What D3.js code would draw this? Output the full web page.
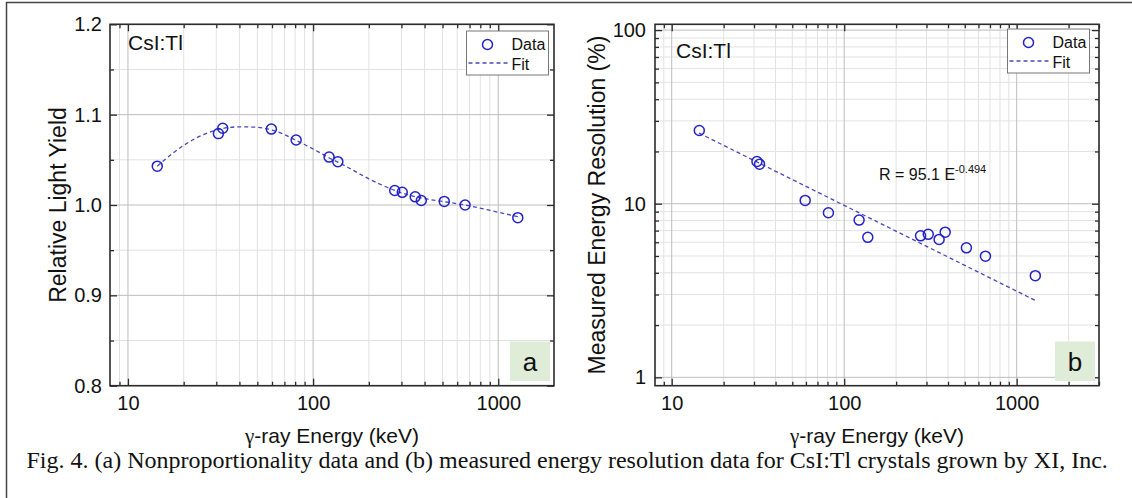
<!DOCTYPE html>
<html>
<head>
<meta charset="utf-8">
<title>CsI:Tl nonproportionality and energy resolution</title>
<script src="https://cdn.jsdelivr.net/npm/d3@7"></script>
<style>
    body { margin: 0; background: #fff; }
    svg { display: block; }
    text { font-family: "Liberation Sans", Arial, sans-serif; fill: #111; }
    .grid-major { stroke: #bdbdbd; stroke-width: 1; }
    .grid-minor { stroke: #e2e2e2; stroke-width: 1; }
    .frame { fill: none; stroke: #2b2b2b; stroke-width: 1.6; }
    .tick line { stroke: #2b2b2b; stroke-width: 1.3; }
    .tick text { font-size: 20px; }
    .data { fill: none; stroke: #2222c8; stroke-width: 1.5; }
    .fit { fill: none; stroke: #4848b8; stroke-width: 1.3; stroke-dasharray: 4,3; }
    .legend-box { fill: #fff; stroke: #777; stroke-width: 1; }
    .caption { font-family: "Liberation Serif", "Times New Roman", serif; font-size: 24px; }
</style>
</head>
<body>
<script>
    // Panel (a): relative light yield
    var energyA = [14.4, 30.8, 32.5, 59.5, 81, 122, 136, 276, 303, 356, 384, 511, 662, 1275];
    var lightYield = [1.043, 1.079, 1.085, 1.084, 1.072, 1.053, 1.048, 1.016, 1.014, 1.009, 1.005, 1.004, 1.000, 0.986];
    var fitEnergyA = [14.4, 20, 25, 30, 40, 50, 60, 70, 80, 100, 120, 150, 200, 300, 400, 500, 700, 1000, 1275];
    var fitYieldA = [1.043, 1.066, 1.077, 1.083, 1.0865, 1.086, 1.083, 1.078, 1.072, 1.062, 1.053, 1.043, 1.029, 1.0135, 1.007, 1.004, 0.999, 0.992, 0.987];

    // Panel (b): measured energy resolution
    var energyB = [14.45, 31.2, 32.3, 59.4, 81, 122, 137, 277, 307, 355, 385, 511, 659, 1282];
    var resolution = [26.4, 17.5, 16.9, 10.45, 8.87, 8.05, 6.4, 6.53, 6.66, 6.23, 6.86, 5.57, 4.99, 3.85];
    var fitEnergyB = [14.4, 1275];
    var fitResB = [25.5, 2.78];

    // Tick values
    var xMajor = [10, 100, 1000];
    var xMinorA = [9, 20, 30, 40, 50, 60, 70, 80, 90, 200, 300, 400, 500, 600, 700, 800, 900];
    var xMinorB = xMinorA.concat([2000, 3000]);
    var yMajorA = [0.8, 0.9, 1.0, 1.1, 1.2];
    var yMinorA = [0.85, 0.95, 1.05, 1.15];
    var yMajorB = [1, 10, 100];
    var yMinorB = [2, 3, 4, 5, 6, 7, 8, 9, 20, 30, 40, 50, 60, 70, 80, 90];

    var svg = d3.select("body").append("svg")
        .attr("width", 1132)
        .attr("height", 498);

    svg.append("rect").attr("width", 1132).attr("height", 498).attr("fill", "#fff");

    // outer figure border (only left and top edges are inside the picture)
    svg.append("rect")
        .attr("x", 6.5).attr("y", 2.5)
        .attr("width", 1200).attr("height", 600)
        .attr("fill", "none").attr("stroke", "#444").attr("stroke-width", 1.5);

    function drawPanel(p) {
        var x = d3.scaleLog().domain(p.xDomain).range([p.left, p.right]);
        var y = (p.yLog ? d3.scaleLog() : d3.scaleLinear()).domain(p.yDomain).range([p.bottom, p.top]);
        var g = svg.append("g");

        // grid
        g.selectAll(".gx-minor").data(p.xMinor).enter().append("line")
            .attr("class", "grid-minor")
            .attr("x1", d => x(d)).attr("x2", d => x(d))
            .attr("y1", p.top).attr("y2", p.bottom);
        g.selectAll(".gy-minor").data(p.yMinor).enter().append("line")
            .attr("class", "grid-minor")
            .attr("x1", p.left).attr("x2", p.right)
            .attr("y1", d => y(d)).attr("y2", d => y(d));
        g.selectAll(".gx-major").data(xMajor).enter().append("line")
            .attr("class", "grid-major")
            .attr("x1", d => x(d)).attr("x2", d => x(d))
            .attr("y1", p.top).attr("y2", p.bottom);
        g.selectAll(".gy-major").data(p.yMajor).enter().append("line")
            .attr("class", "grid-major")
            .attr("x1", p.left).attr("x2", p.right)
            .attr("y1", d => y(d)).attr("y2", d => y(d));

        // axes, ticks pointing inwards on all four sides
        function addAxis(axis, tx, ty) {
            var a = g.append("g").attr("transform", "translate(" + tx + "," + ty + ")").call(axis);
            a.attr("font-family", null).attr("font-size", null);
            a.select(".domain").remove();
        }
        addAxis(d3.axisBottom(x).tickValues(xMajor).tickSize(-7).tickPadding(10).tickFormat(d3.format("d")), 0, p.bottom);
        addAxis(d3.axisBottom(x).tickValues(p.xMinor).tickSize(-4).tickFormat(""), 0, p.bottom);
        addAxis(d3.axisTop(x).tickValues(xMajor).tickSize(-7).tickFormat(""), 0, p.top);
        addAxis(d3.axisTop(x).tickValues(p.xMinor).tickSize(-4).tickFormat(""), 0, p.top);
        addAxis(d3.axisLeft(y).tickValues(p.yMajor).tickSize(-7).tickPadding(p.yPad).tickFormat(p.yFormat), p.left, 0);
        addAxis(d3.axisLeft(y).tickValues(p.yMinor).tickSize(-4).tickFormat(""), p.left, 0);
        addAxis(d3.axisRight(y).tickValues(p.yMajor).tickSize(-7).tickFormat(""), p.right, 0);
        addAxis(d3.axisRight(y).tickValues(p.yMinor).tickSize(-4).tickFormat(""), p.right, 0);

        g.append("rect").attr("class", "frame")
            .attr("x", p.left).attr("y", p.top)
            .attr("width", p.right - p.left).attr("height", p.bottom - p.top);

        // fit line
        var line = d3.line()
            .x(d => x(d[0])).y(d => y(d[1]))
            .curve(d3.curveMonotoneX);
        g.append("path").attr("class", "fit")
            .attr("d", line(d3.zip(p.fitX, p.fitY)));

        // data circles
        g.selectAll(".pt").data(d3.zip(p.dataX, p.dataY)).enter().append("circle")
            .attr("class", "data")
            .attr("cx", d => x(d[0])).attr("cy", d => y(d[1]))
            .attr("r", 5);

        // axis titles
        g.append("text")
            .attr("transform", "translate(" + p.yTitleX + "," + (p.top + p.bottom) / 2 + ") rotate(-90)")
            .attr("text-anchor", "middle").attr("font-size", 23)
            .text(p.yTitle);
        var xt = g.append("text")
            .attr("x", (p.left + p.right) / 2).attr("y", p.xTitleY)
            .attr("text-anchor", "middle").attr("font-size", 21);
        xt.append("tspan").style("font-family", '"Liberation Serif", serif').text("\u03B3");
        xt.append("tspan").text("-ray Energy (keV)");

        // material label
        g.append("text").attr("x", p.matX).attr("y", p.matY)
            .attr("font-size", 21).text("CsI:Tl");

        // legend
        var L = p.legend;
        g.append("rect").attr("class", "legend-box")
            .attr("x", L.x).attr("y", L.y).attr("width", 82).attr("height", 44);
        g.append("circle").attr("class", "data")
            .attr("cx", L.x + 21).attr("cy", L.y + 13.5).attr("r", 5);
        g.append("text").attr("x", L.x + 45).attr("y", L.y + 18.5)
            .attr("font-size", 16).text("Data");
        g.append("line").attr("class", "fit")
            .attr("x1", L.x + 2).attr("x2", L.x + 41)
            .attr("y1", L.y + 32).attr("y2", L.y + 32);
        g.append("text").attr("x", L.x + 45).attr("y", L.y + 38.5)
            .attr("font-size", 16).text("Fit");

        // panel letter
        g.append("rect").attr("x", p.letterX - 20).attr("y", 341.5)
            .attr("width", 40).attr("height", 39.5).attr("fill", "#dfecd7");
        g.append("text").attr("x", p.letterX).attr("y", 371)
            .attr("text-anchor", "middle").attr("font-size", 26).text(p.letter);

        return { x: x, y: y, g: g };
    }

    drawPanel({
        left: 110, right: 554, top: 24.3, bottom: 385.7,
        xDomain: [8, 2000], yDomain: [0.8, 1.2], yLog: false,
        xMinor: xMinorA, yMajor: yMajorA, yMinor: yMinorA,
        yFormat: d3.format(".1f"), yPad: 8,
        dataX: energyA, dataY: lightYield, fitX: fitEnergyA, fitY: fitYieldA,
        yTitle: "Relative Light Yield", yTitleX: 66, xTitleY: 443,
        matX: 128, matY: 49.5,
        legend: { x: 466.5, y: 31 },
        letter: "a", letterX: 530
    });

    var b = drawPanel({
        left: 655, right: 1099, top: 24.3, bottom: 385.7,
        xDomain: [8, 3000], yDomain: [0.895, 108], yLog: true,
        xMinor: xMinorB, yMajor: yMajorB, yMinor: yMinorB,
        yFormat: d3.format("d"), yPad: 9,
        dataX: energyB, dataY: resolution, fitX: fitEnergyB, fitY: fitResB,
        yTitle: "Measured Energy Resolution (%)", yTitleX: 605, xTitleY: 443,
        matX: 676, matY: 57.5,
        legend: { x: 1007.5, y: 29 },
        letter: "b", letterX: 1075
    });

    // fit equation
    var eq = b.g.append("text").attr("x", 879).attr("y", 180).attr("font-size", 16);
    eq.append("tspan").text("R = 95.1 E");
    eq.append("tspan").attr("dy", -7).attr("font-size", 11).text("-0.494");

    // figure caption
    svg.append("text").attr("class", "caption")
        .attr("x", 26.5).attr("y", 468)
        .text("Fig. 4. (a) Nonproportionality data and (b) measured energy resolution data for CsI:Tl crystals grown by XI, Inc.");
</script>
</body>
</html>
